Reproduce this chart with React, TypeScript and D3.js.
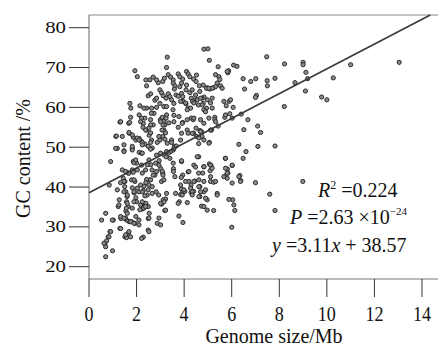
import React from 'react';
import * as d3 from 'd3';

// axis ticks
const xTicks = [0, 2, 4, 6, 8, 10, 12, 14];
const yTicks = [20, 30, 40, 50, 60, 70, 80];

// regression fit printed in the panel
const slope = 3.11;
const intercept = 38.57;

// [genome size (Mb), GC content (%)]
const sparsePoints: [number, number][] = [
  [13.04, 71.3], [11.0, 70.7], [10.27, 67.4], [9.78, 62.6], [10.0, 61.9], [9.0, 71.3], [9.0, 70.7],
  [9.12, 68.8], [9.19, 67.2], [9.1, 64.1], [8.66, 66.2], [8.22, 70.9], [8.21, 60.2], [7.82, 67.3],
  [7.47, 72.7], [7.49, 66.7], [7.5, 65.4], [7.01, 67.2], [6.8, 66.5], [6.48, 67.2], [6.54, 64.6],
  [7.04, 63.0], [7.0, 62.5], [6.08, 70.6], [6.22, 70.3], [5.87, 69.2], [5.84, 68.7], [5.43, 70.2],
  [6.4, 58.3], [6.68, 56.9], [6.51, 54.4], [7.09, 55.3], [7.21, 53.7], [7.1, 50.2], [7.82, 50.3],
  [6.3, 50.7], [6.6, 48.9], [6.48, 47.2], [7.0, 41.1], [8.99, 41.4], [7.6, 38.2], [7.82, 34.1],
  [6.0, 29.9], [6.04, 36.8], [6.09, 35.5], [6.13, 34.1], [6.34, 42.9], [6.38, 41.6], [6.02, 45.4],
  [5.73, 47.2], [5.82, 44.5], [5.84, 43.5], [5.73, 42.8], [5.89, 61.5], [5.77, 60.4], [6.06, 60.0],
  [5.92, 58.4], [5.71, 57.5], [5.29, 57.5], [5.29, 56.9], [5.43, 55.3], [5.15, 54.3], [5.39, 38.4],
  [5.24, 34.1], [4.97, 34.2], [5.11, 41.4], [5.24, 41.2], [5.09, 44.1], [5.06, 45.8], [5.13, 45.4],
  [0.99, 24.0], [0.7, 22.5], [6.02, 57.3], [5.74, 58.1], [5.95, 61.9], [5.67, 61.5], [5.81, 69.0],
  [6.3, 42.6], [6.37, 41.4], [6.02, 41.0], [5.88, 36.9], [5.74, 44.7], [5.81, 43.5], [5.67, 42.6],
  [5.81, 42.2], [6.02, 45.5], [5.74, 47.2],
];

const upperPoints: [number, number][] = [
  [5.46, 67.7], [5.5, 67.0], [5.53, 65.4], [5.22, 64.9], [4.97, 64.9], [5.06, 71.8], [4.83, 74.6],
  [5.0, 74.7], [4.66, 64.0], [4.84, 62.6], [4.75, 62.3], [4.8, 61.0], [4.94, 59.8], [4.97, 61.9],
  [5.06, 51.2], [4.73, 53.9], [4.75, 52.7], [4.61, 50.9], [1.13, 52.7], [1.19, 49.7], [1.3, 56.3],
  [1.47, 49.1], [1.72, 61.0], [1.76, 59.8], [1.67, 56.0], [1.75, 57.5], [1.47, 50.6], [1.69, 53.5],
  [1.86, 52.5], [1.97, 51.8], [2.11, 52.2], [2.21, 51.4], [2.35, 50.8], [1.82, 49.7], [1.82, 49.3],
  [2.11, 48.7], [2.21, 48.5], [2.42, 54.3], [2.53, 53.0], [2.63, 51.8], [2.7, 55.6], [2.59, 56.9],
  [2.35, 57.3], [2.42, 59.8], [2.63, 59.8], [2.73, 58.5], [2.84, 60.0], [2.98, 61.0], [3.15, 60.2],
  [3.26, 60.2], [2.77, 61.8], [2.84, 62.3], [2.49, 62.9], [2.59, 63.4], [2.14, 60.4], [2.31, 59.8],
  [2.11, 58.1], [2.21, 57.3], [2.28, 56.0], [2.56, 66.9], [2.7, 67.6], [2.42, 65.4], [2.39, 66.9],
  [1.93, 69.2], [2.03, 67.7], [2.91, 66.2], [3.1, 66.5], [3.17, 67.3], [3.29, 72.6], [3.26, 70.0],
  [3.0, 56.9], [3.08, 57.5], [3.15, 56.5], [3.19, 55.6], [3.15, 54.3], [3.26, 58.1], [3.24, 57.3],
  [3.1, 52.7], [3.19, 52.0], [3.47, 51.8], [3.59, 50.2], [3.54, 49.3], [3.94, 56.2], [3.89, 53.5],
  [4.13, 54.3], [4.17, 53.5], [3.75, 55.0], [4.3, 57.3], [4.38, 56.9], [4.4, 53.5], [4.52, 52.7],
  [4.5, 54.8], [4.66, 54.2], [3.53, 59.4], [3.57, 58.0], [3.33, 63.4], [3.4, 62.7], [3.47, 61.9],
  [3.57, 61.0], [3.66, 63.1], [3.75, 62.8], [3.89, 63.5], [3.94, 62.7], [3.96, 61.5], [4.08, 64.4],
  [4.1, 65.6], [4.3, 62.3], [4.35, 61.5], [4.5, 61.9], [4.6, 60.6], [4.24, 63.7], [3.33, 68.2],
  [3.43, 67.6], [3.54, 66.9], [3.75, 68.4], [3.82, 67.7], [3.94, 67.1], [4.1, 69.0], [4.17, 68.4],
  [4.24, 67.7], [4.4, 67.1], [4.5, 66.5], [4.52, 68.1], [4.64, 65.4], [4.8, 65.6], [4.94, 64.8],
  [5.08, 64.6], [2.98, 64.4], [3.05, 63.7], [3.12, 62.9], [3.24, 62.3], [3.54, 66.1], [3.61, 65.4],
  [3.59, 64.6], [3.82, 65.2], [3.89, 66.1], [2.84, 66.9], [2.62, 58.5], [4.08, 60.9], [4.17, 59.8],
  [1.33, 56.4], [1.71, 56.2], [2.17, 56.4], [2.59, 55.6], [2.52, 54.8], [2.59, 53.6], [2.27, 55.0],
  [2.38, 54.3], [3.01, 56.4], [3.11, 55.6], [3.07, 54.3], [3.22, 53.6], [3.36, 56.1], [3.57, 56.4],
  [1.15, 52.8], [1.4, 52.7], [1.68, 53.7], [1.82, 53.1], [2.03, 52.3], [2.1, 51.8], [2.24, 51.2],
  [2.24, 50.6], [2.59, 51.2], [2.49, 50.2], [2.66, 49.8], [2.87, 51.2], [2.98, 51.8], [2.94, 52.7],
  [3.29, 51.0], [3.47, 51.2], [1.12, 49.7], [1.47, 48.9], [1.82, 50.2], [2.24, 48.5], [2.59, 49.5],
  [3.01, 48.5], [3.15, 48.1], [3.29, 48.5], [3.43, 48.9], [3.57, 49.7], [3.67, 50.3], [5.32, 68.2],
  [5.39, 66.1], [5.32, 65.2], [5.18, 64.8], [5.04, 64.8], [5.6, 64.8], [4.34, 64.4], [4.48, 63.1],
  [4.55, 61.9], [4.41, 61.1], [4.27, 59.8], [4.13, 59.4], [4.06, 61.1], [3.85, 61.5], [4.69, 62.3],
  [4.76, 60.6], [4.83, 59.4], [4.9, 58.9], [5.18, 62.3], [5.11, 61.1], [5.18, 59.8], [3.78, 57.7],
  [4.13, 56.9], [4.41, 57.3], [4.69, 56.9], [5.04, 57.3], [3.92, 56.0], [4.34, 53.5], [4.83, 56.0],
  [5.32, 56.4], [4.69, 53.9], [4.62, 52.3], [5.11, 54.3], [5.04, 51.0], [4.83, 51.8], [3.85, 51.8],
];

const lowerPoints: [number, number][] = [
  [3.33, 48.5], [3.4, 47.2], [3.54, 46.0], [3.55, 44.6], [3.55, 43.9], [2.84, 43.9], [2.77, 43.0],
  [2.56, 41.8], [2.52, 40.5], [3.05, 41.4], [3.1, 43.5], [3.02, 44.6], [3.24, 47.6], [3.26, 48.9],
  [2.95, 46.6], [2.94, 45.5], [2.84, 48.0], [2.6, 45.6], [2.65, 44.3], [2.7, 43.0], [2.93, 38.0],
  [2.82, 38.8], [2.66, 38.4], [2.45, 38.0], [2.28, 39.1], [2.35, 37.8], [2.49, 39.3], [2.42, 41.9],
  [2.39, 41.1], [2.31, 40.2], [2.21, 35.5], [2.39, 35.9], [2.49, 35.1], [2.25, 34.5], [2.49, 32.1],
  [2.53, 33.4], [2.49, 29.2], [2.28, 27.4], [2.21, 27.1], [1.97, 32.6], [2.1, 31.7], [1.93, 30.9],
  [1.79, 31.3], [1.69, 31.3], [1.58, 31.7], [1.51, 32.1], [1.34, 32.1], [1.3, 29.6], [1.65, 28.4],
  [1.51, 27.5], [1.58, 27.3], [1.23, 35.1], [1.27, 36.8], [1.19, 39.3], [1.02, 31.7], [0.7, 33.4],
  [0.53, 31.7], [0.88, 28.8], [0.81, 27.5], [0.74, 26.5], [0.67, 25.7], [0.7, 25.0], [0.85, 40.5],
  [0.91, 46.4], [4.61, 47.6], [4.83, 45.1], [4.78, 43.5], [4.61, 43.5], [4.45, 41.5], [4.66, 40.1],
  [4.83, 38.8], [4.66, 37.6], [4.97, 36.8], [4.73, 35.2], [4.83, 35.1], [4.17, 43.8], [4.2, 41.4],
  [4.29, 40.5], [4.29, 38.6], [4.4, 38.9], [3.89, 39.5], [3.94, 38.7], [4.13, 36.1], [3.8, 36.3],
  [3.78, 32.7], [3.95, 31.1], [3.85, 38.1], [4.03, 38.9], [3.89, 46.4], [3.94, 43.0], [3.88, 42.4],
  [3.61, 42.6], [3.64, 38.4], [3.75, 35.9], [3.26, 38.4], [3.22, 37.0], [3.19, 34.1], [3.05, 35.7],
  [3.12, 36.8], [1.86, 46.4], [2.0, 46.0], [2.21, 45.5], [1.82, 44.3], [1.65, 43.5], [1.44, 42.2],
  [1.33, 41.1], [1.51, 41.4], [1.79, 41.8], [1.93, 41.4], [1.5, 40.1], [1.55, 38.8], [1.6, 37.6],
  [1.58, 36.3], [1.65, 35.1], [1.55, 34.0], [1.82, 39.8], [1.9, 38.5], [1.97, 37.3], [2.1, 38.8],
  [2.17, 40.5], [1.86, 43.7], [2.03, 44.3], [2.0, 36.3], [2.14, 34.3], [2.31, 34.7], [1.89, 46.1],
  [1.96, 46.8], [1.4, 44.3], [1.54, 43.9], [1.68, 43.5], [1.47, 41.4], [1.89, 41.8], [2.24, 43.5],
  [2.38, 44.3], [2.45, 45.6], [2.52, 46.8], [2.8, 46.0], [3.08, 43.9], [3.11, 43.0], [3.15, 41.8],
  [2.59, 41.8], [2.66, 40.1], [2.03, 39.7], [2.24, 38.8], [1.89, 38.8], [1.47, 38.8], [1.61, 38.0],
  [1.26, 35.5], [1.61, 35.9], [1.82, 34.7], [1.89, 36.3], [2.17, 35.5], [2.24, 36.3], [2.38, 35.1],
  [1.57, 34.7], [1.61, 33.4], [1.54, 32.2], [0.98, 31.7], [1.33, 32.6], [1.47, 32.2], [1.75, 31.3],
  [1.89, 30.9], [2.1, 30.5], [1.33, 29.6], [2.52, 32.2], [2.94, 32.2], [2.87, 30.9], [3.01, 30.5],
  [3.22, 34.2], [3.01, 35.9], [3.15, 36.3], [0.91, 28.8], [0.84, 27.5], [0.63, 25.9], [1.54, 28.0],
  [1.68, 28.8], [1.75, 27.5], [2.52, 28.8], [3.85, 40.5], [3.99, 39.3], [4.27, 39.7], [4.34, 38.8],
  [4.62, 40.1], [4.69, 38.8], [4.9, 39.3], [3.92, 38.0], [4.34, 38.0], [4.62, 37.6], [4.9, 37.2],
  [5.39, 38.0], [4.06, 41.4], [4.41, 41.4], [4.62, 41.8], [4.83, 41.4], [5.11, 42.6], [5.32, 41.4],
  [4.41, 45.5], [4.48, 45.0], [4.2, 43.9], [4.83, 45.1], [5.11, 45.5], [5.18, 44.7], [4.55, 47.6],
  [3.89, 46.6],
];

const allPoints = [...sparsePoints, ...upperPoints, ...lowerPoints];

const serif = '"Liberation Serif", "Times New Roman", serif';

export default function App() {
  const width = 438;
  const height = 354;
  const margin = { top: 15, left: 89, bottom: 279, right: 438 };

  const x = d3.scaleLinear().domain([0, 14]).range([89, 422]);
  const y = d3.scaleLinear().domain([20, 80]).range([266.7, 27.7]);

  const yTop = y.invert(margin.top);
  const xEnd = (yTop - intercept) / slope;
  const fit = d3.line<number>()
    .x((d) => x(d))
    .y((d) => y(slope * d + intercept));

  return (
    <svg width={width} height={height} style={{ position: 'absolute', left: 0, top: 0, background: '#fff' }}>
      {/* frame */}
      <line x1={margin.left} x2={margin.right} y1={margin.top} y2={margin.top} stroke="#888" strokeWidth={1} />
      <line x1={margin.left} x2={margin.right} y1={margin.bottom} y2={margin.bottom} stroke="#777" strokeWidth={1} />
      <line x1={margin.left} x2={margin.left} y1={margin.top} y2={margin.bottom} stroke="#666" strokeWidth={1} />

      {/* y axis */}
      {yTicks.map((t) => (
        <g key={'y' + t}>
          <line x1={69} x2={margin.left} y1={y(t)} y2={y(t)} stroke="#333" strokeWidth={1} />
          <text x={66} y={y(t) + 5.5} textAnchor="end" fontSize={16} fill="#111" fontFamily={serif}
            transform={`translate(66,0) scale(1.3,1) translate(-66,0)`}>{t}</text>
        </g>
      ))}

      {/* x axis */}
      {xTicks.map((t) => (
        <g key={'x' + t}>
          <line x1={x(t)} x2={x(t)} y1={margin.bottom} y2={297} stroke="#333" strokeWidth={1} />
          <text x={x(t)} y={321.5} textAnchor="middle" fontSize={22} fill="#111" fontFamily={serif}
            transform={`translate(${x(t)},0) scale(0.82,1) translate(${-x(t)},0)`}>{t}</text>
        </g>
      ))}

      <text x={274} y={342.5} textAnchor="middle" fontSize={20} fill="#111" fontFamily={serif}>Genome size/Mb</text>
      <text transform="translate(30,158.5) rotate(-90)" textAnchor="middle" fontSize={20} fill="#111"
        fontFamily={serif}>GC content /%</text>

      {/* points */}
      <g>
        {allPoints.map((d, i) => (
          <circle key={i} cx={x(d[0])} cy={y(d[1])} r={2.1} fill="#8c8c8c" stroke="#2a2a2a" strokeWidth={1} />
        ))}
      </g>

      {/* regression line */}
      <path d={fit([0, xEnd]) || ''} fill="none" stroke="#3a3a3a" strokeWidth={1.7} />

      {/* statistics */}
      <g fontSize={20} fill="#111">
        <text x={318} y={196.5} fontFamily={serif}>
          <tspan fontStyle="italic">R</tspan>
          <tspan fontSize={12} dy={-8}>2</tspan>
          <tspan dy={8}> =0.224</tspan>
        </text>
        <text x={290} y={224} fontFamily={serif}>
          <tspan fontStyle="italic">P</tspan>
          <tspan> =2.63 ×10</tspan>
          <tspan fontSize={11} dy={-9}>−24</tspan>
        </text>
        <text x={272} y={252} fontFamily={serif}>
          <tspan fontStyle="italic">y</tspan>
          <tspan> =3.11</tspan>
          <tspan fontStyle="italic">x</tspan>
          <tspan> + 38.57</tspan>
        </text>
      </g>
    </svg>
  );
}
